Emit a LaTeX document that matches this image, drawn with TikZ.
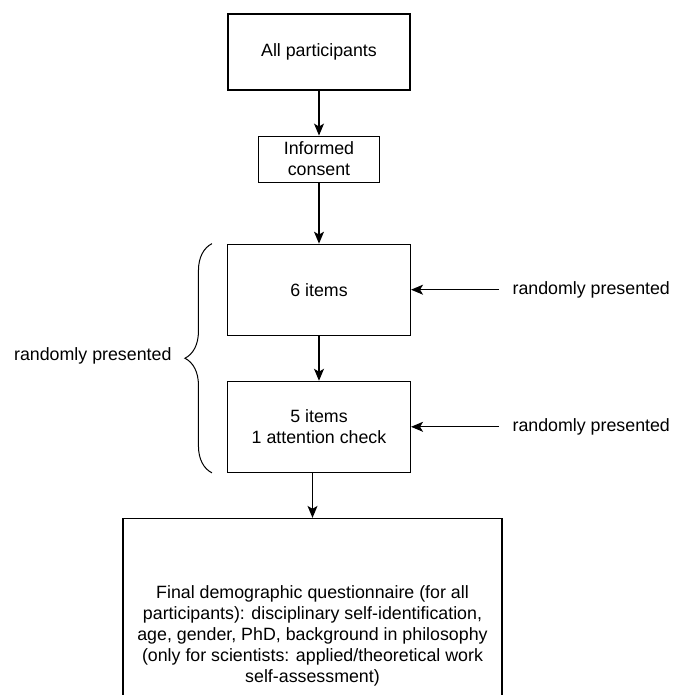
\documentclass[tikz,border=0pt]{standalone}
\usepackage{fontspec}
\setmainfont{Liberation Sans}
\usepackage{tikz}
\usetikzlibrary{positioning,arrows.meta,decorations.pathreplacing}

\begin{document}
\begin{tikzpicture}[
		x=1pt, y=1pt,
		node distance={45pt},
		line width=1.1pt,
		>={Stealth[length=12pt,width=10pt,inset=3pt]},
		every node/.style = {font=\fontsize{17.8}{21}\selectfont},
		box/.style = {draw, rectangle, align=center, inner sep=0pt},
		lbl/.style = {inner xsep=13pt, inner ysep=2pt}
	]
	\clip (0,0) rectangle (673,-695);
	\node[box, minimum width=182pt, minimum height=76pt] (allp) at (319,-52) {All participants};
	\node[box, minimum width=121pt, minimum height=46pt] (consent) [below=of allp] {Informed\\consent};
	\node[box, minimum width=183pt, minimum height=91pt] (six) [below=61pt of consent] {6 items};
	\node[box, minimum width=183pt, minimum height=91pt] (five) [below=of six] {5 items\\1 attention check};
	\node[box, minimum width=379pt, minimum height=234pt] (final) [below=of five, xshift=-6.5pt]
		{Final demographic questionnaire (for all\\participants): disciplinary self-identification,\\age, gender, PhD, background in philosophy\\(only for scientists: applied/theoretical work\\self-assessment)};
	\node[lbl] (rp1) [right=88pt of six] {randomly presented};
	\node[lbl] (rp2) [right=88pt of five] {randomly presented};
	\node[lbl, anchor=east, inner xsep=14pt] (rp0) at (186,-356) {randomly presented};
	\draw[->] (allp) -- (consent);
	\draw[->] (consent) -- (six);
	\draw[->] (six) -- (five);
	\draw[->] (final.north |- five.south) -- (final.north);
	\draw[->] (rp1) -- (six);
	\draw[->] (rp2) -- (five);
	\draw[line width=1pt, decorate, decoration={brace, amplitude=27pt}]
		([xshift=-15pt]five.south west) -- ([xshift=-15pt]six.north west);
\end{tikzpicture}
\end{document}
